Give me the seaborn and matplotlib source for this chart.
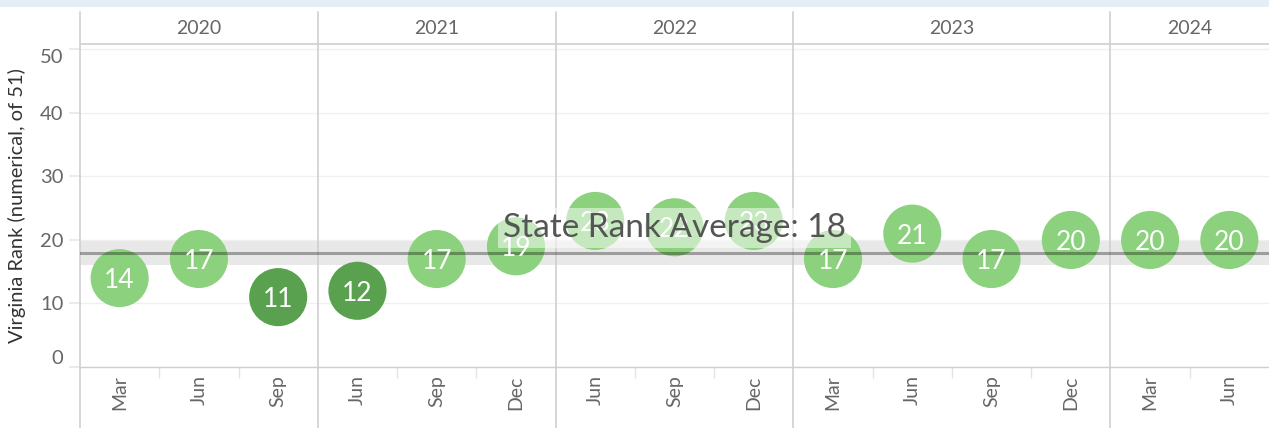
import matplotlib
matplotlib.use("Agg")
import matplotlib.pyplot as plt
import seaborn as sns
import pandas as pd
from matplotlib.lines import Line2D
from matplotlib.patches import Rectangle
from matplotlib.transforms import blended_transform_factory

# --- data ---
year_labels = ["2020", "2021", "2022", "2023", "2024"]
year_counts = [3, 3, 3, 4, 2]
months = ["Mar", "Jun", "Sep", "Jun", "Sep", "Dec", "Jun", "Sep", "Dec",
          "Mar", "Jun", "Sep", "Dec", "Mar", "Jun"]
ranks = [14, 17, 11, 12, 17, 19, 23, 22, 23, 17, 21, 17, 20, 20, 20]
top_tier = [False, False, True, True, False, False, False, False, False,
            False, False, False, False, False, False]
avg_rank = 18
band_low, band_high = 16, 20

COLORS = {
    "light": "#8cd17d",
    "dark": "#59a14f",
    "text": "#666666",
    "title": "#333333",
    "rule": "#cfcfcf",
    "grid": "#f0f0f0",
}

sns.set_theme(style="white")
plt.rcParams.update({
    "font.family": ["Lato", "DejaVu Sans"],
    "text.color": COLORS["text"],
})

W, H = 1269, 428
fig = plt.figure(figsize=(W / 100, H / 100), dpi=100)
fig.patch.set_facecolor("white")

# top light-blue strip
fig.add_artist(Rectangle((0, 1 - 7 / H), 1, 7 / H, transform=fig.transFigure,
                         facecolor="#e5eef7", edgecolor="none"))

ax = fig.add_axes([80 / W, 1 - 367 / H, (W - 80) / W, (367 - 45) / H])

df = pd.DataFrame({
    "pos": range(len(ranks)),
    "rank": ranks,
    "tier": ["dark" if t else "light" for t in top_tier],
})

# reference band + average line
ax.axhspan(band_low, band_high, color="#e8e8e8", zorder=0.5, lw=0)
sns.scatterplot(data=df, x="pos", y="rank", hue="tier",
                palette={"light": COLORS["light"], "dark": COLORS["dark"]},
                s=1750, linewidth=0, legend=False, zorder=2, ax=ax)
ax.axhline(avg_rank, color="black", alpha=0.32, lw=2.2, zorder=3)

for x, r in zip(df["pos"], df["rank"]):
    ax.text(x, r, str(r), ha="center", va="center_baseline", color="white",
            fontsize=19, zorder=4)

ax.text(7, 21.9, f"State Rank Average: {avg_rank}", ha="center", va="center",
        fontsize=24, color="#555555", zorder=5,
        bbox=dict(boxstyle="square,pad=0.15", facecolor="white", alpha=0.5,
                  edgecolor="none"))

ax.set_xlim(-0.5, len(ranks) - 0.5)
ax.set_ylim(0, 50.7)
ax.set_xlabel("")
ax.set_ylabel("Virginia Rank (numerical, of 51)", fontsize=14.5,
              color=COLORS["title"], labelpad=10)

ax.set_yticks(range(0, 51, 10))
ax.grid(True, axis="y", color=COLORS["grid"], lw=1)
ax.grid(False, axis="x")
ax.set_axisbelow(True)
ax.tick_params(axis="y", length=8, color="#e8e8e8", labelcolor=COLORS["text"],
               labelsize=14.5, pad=4, left=True)
ylabels = ax.get_yticklabels()
ylabels[0].set_va("bottom")
ylabels[-1].set_va("top")

ax.set_xticks(range(len(months)))
ax.set_xticklabels(months, rotation=90, va="top")
ax.tick_params(axis="x", length=0, labelcolor=COLORS["text"], labelsize=14,
               pad=6)

# small marks between months inside a year
bounds = []
start = 0
for n in year_counts:
    bounds += [start + k + 0.5 for k in range(n - 1)]
    start += n
ax.set_xticks(bounds, minor=True)
ax.tick_params(axis="x", which="minor", length=8, color="#e4e4e4", bottom=True)

for side in ["top", "right", "left"]:
    ax.spines[side].set_visible(False)
ax.spines["bottom"].set_color(COLORS["rule"])
ax.spines["bottom"].set_linewidth(1)

# year header and separators
trans = blended_transform_factory(ax.transData, fig.transFigure)
fig.add_artist(Line2D([80 / W, 1], [1 - 44 / H] * 2, color=COLORS["rule"],
                      lw=1.2, transform=fig.transFigure))
start = 0
for label, n in zip(year_labels, year_counts):
    left = start - 0.5
    ax.add_line(Line2D([left, left], [0, 1 - 12 / H], color=COLORS["rule"],
                       lw=1.2, transform=trans, clip_on=False))
    ax.text(left + n / 2, 1 - 29 / H, label, transform=trans, ha="center",
            va="center", fontsize=14, color=COLORS["text"])
    start += n

fig.savefig("out.png", dpi=100)
